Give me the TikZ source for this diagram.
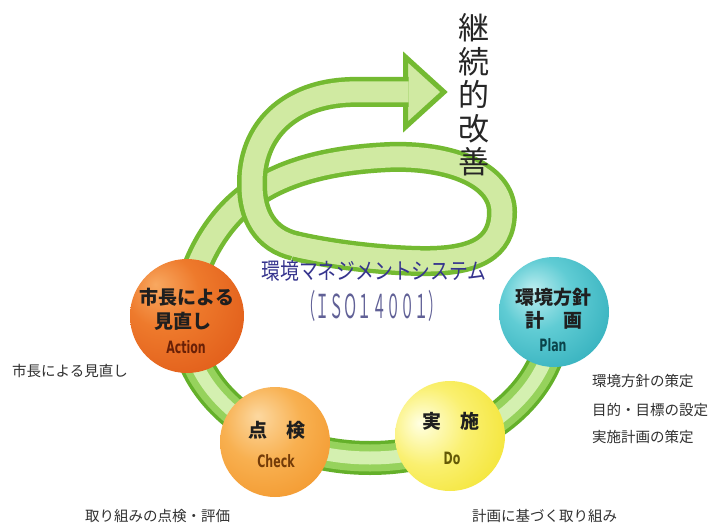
\documentclass[tikz,border=0pt]{standalone}
\usepackage{fontspec}
\newfontfamily\jp{Noto Sans CJK JP}
\newfontfamily\latc{DejaVu Sans Condensed}

% band colours
\definecolor{lowDark}{RGB}{100,176,42}
\definecolor{lowMid}{RGB}{150,210,92}
\definecolor{lowLight}{RGB}{212,240,176}
\definecolor{upDark}{RGB}{116,186,50}
\definecolor{upLight}{RGB}{208,234,162}
% text colours
\definecolor{sysBlue}{RGB}{54,52,142}
\definecolor{isoBlue}{RGB}{96,96,150}
\definecolor{sideGray}{RGB}{48,48,48}
% ball colours
\definecolor{actHi}{RGB}{248,168,96}
\definecolor{actMid}{RGB}{238,122,44}
\definecolor{actBody}{RGB}{224,90,24}
\definecolor{actEdge}{RGB}{190,58,12}
\definecolor{plnHi}{RGB}{190,238,240}
\definecolor{plnMid}{RGB}{96,204,212}
\definecolor{plnBody}{RGB}{42,170,184}
\definecolor{plnEdge}{RGB}{20,134,148}
\definecolor{chkHi}{RGB}{252,216,160}
\definecolor{chkMid}{RGB}{248,176,80}
\definecolor{chkBody}{RGB}{242,148,40}
\definecolor{chkEdge}{RGB}{230,118,16}
\definecolor{doHi}{RGB}{255,255,226}
\definecolor{doMid}{RGB}{250,240,112}
\definecolor{doBody}{RGB}{242,226,42}
\definecolor{doEdge}{RGB}{222,198,16}

\pgfdeclareradialshading{actionShade}{\pgfpoint{-14bp}{14bp}}{color(0bp)=(actHi); color(16bp)=(actMid); color(40bp)=(actBody); color(70bp)=(actEdge)}
\pgfdeclareradialshading{planShade}{\pgfpoint{-10bp}{10bp}}{color(0bp)=(plnHi); color(16bp)=(plnMid); color(40bp)=(plnBody); color(70bp)=(plnEdge)}
\pgfdeclareradialshading{checkShade}{\pgfpoint{-8bp}{12bp}}{color(0bp)=(chkHi); color(18bp)=(chkMid); color(40bp)=(chkBody); color(70bp)=(chkEdge)}
\pgfdeclareradialshading{doShade}{\pgfpoint{-14bp}{6bp}}{color(0bp)=(doHi); color(18bp)=(doMid); color(40bp)=(doBody); color(70bp)=(doEdge)}

% centre lines of the spiral band
\def\lowerTurn{(554,318) arc[start angle=0,end angle=-180,x radius=184pt,y radius=140pt]}
\def\middleTurn{(186,318) .. controls (186,285) and (205,232) .. (245,200)
  .. controls (275,176) and (320,160) .. (390,157)
  .. controls (450,155) and (502,175) .. (502,212)
  .. controls (502,248) and (475,262) .. (420,261)
  .. controls (370,260) and (320,252) .. (295,246)}
\def\upperTurn{(295,246) .. controls (265,239) and (252,215) .. (252,185)
  .. controls (251,130) and (290,94) .. (350,92) -- (408.5,92)}
% same front turn, begun one segment earlier so its fill hides the joint
\def\upperTurnLong{(420,261) .. controls (370,260) and (320,252) .. (295,246)
  .. controls (265,239) and (252,215) .. (252,185)
  .. controls (251,130) and (290,94) .. (350,92) -- (408.5,92)}

\begin{document}
\begin{tikzpicture}[x=1pt,y=-1pt,
  ball/.style={circle,minimum size=110pt,inner sep=0pt,draw=none},
  jlabel/.style={font=\jp\bfseries\fontsize{19}{19}\selectfont,text=black!88,inner sep=0pt},
  elabel/.style={font=\latc\bfseries\fontsize{17}{17}\selectfont,inner sep=0pt},
  sidetext/.style={font=\jp\fontsize{14.5}{14.5}\selectfont,text=sideGray,anchor=west,inner sep=0pt}]
\useasboundingbox[fill=white] (0,0) rectangle (725,524);

% lower turn through the four stages
\draw[line width=34,lowDark] \lowerTurn;
\draw[line width=27,lowMid] \lowerTurn;
\draw[line width=13,lowLight] \lowerTurn;

% rising turn behind the title
\draw[line width=30,upDark] \middleTurn;
\draw[line width=21,upLight] \middleTurn;

% arrow head
\draw[upDark,line width=5,fill=upLight,line join=miter] (405.5,57) -- (444,92) -- (405.5,127) -- cycle;

% front turn ending in the arrow shaft
\draw[line width=30,upDark] \upperTurn;
\draw[line width=21,upLight] \upperTurnLong;

% stage balls
\node[ball,minimum size=114pt,shading=actionShade] (act) at (187,316) {};
\node[ball,shading=planShade] (pln) at (554,312) {};
\node[ball,shading=checkShade] (chk) at (275,442) {};
\node[ball,shading=doShade] (do) at (450,436) {};

% ball labels
\node[jlabel] (act1) at (187,297) {市長による};
\node[jlabel] (act2) at (183,321) {見直し};
\node[elabel,text=actEdge!55!black] (act3) at (186,347) {\scalebox{0.72}[1]{Action}};

\node[jlabel] (pln1) at (553,297) {環境方針};
\node[jlabel] (pln2) at (554,320) {計　画};
\node[elabel,text=plnEdge!50!black] (pln3) at (553,345) {\scalebox{0.72}[1]{Plan}};

\node[jlabel] (chk1) at (277,430) {点　検};
\node[elabel,text=chkEdge!50!black] (chk2) at (276,461) {\scalebox{0.72}[1]{Check}};

\node[jlabel] (do1) at (451,421) {実　施};
\node[elabel,text=doEdge!45!black] (do2) at (452,458) {\scalebox{0.72}[1]{Do}};

% titles
\node[font=\jp\fontsize{31}{33.5}\selectfont,text=black!85,align=center,inner sep=0pt] (kaizen) at (474,95) {継\\続\\的\\改\\善};
\node[font=\jp\fontsize{19}{19}\selectfont,text=sysBlue,inner sep=0pt] (sys) at (374,271) {\scalebox{0.99}[1.2]{環境マネジメントシステム}};
\node[font=\jp\fontsize{33}{33}\selectfont,text=isoBlue,inner sep=0pt] (iso) at (372,306) {\scalebox{0.43}[1]{（ＩＳＯ１４００１）}};

% stage descriptions
\node[sidetext] (actTxt) at (12,371) {市長による見直し};
\node[sidetext] (plnTxt1) at (592,381) {環境方針の策定};
\node[sidetext] (plnTxt2) at (592,410) {目的・目標の設定};
\node[sidetext] (plnTxt3) at (592,437) {実施計画の策定};
\node[sidetext] (chkTxt) at (85,516) {取り組みの点検・評価};
\node[sidetext] (doTxt) at (472,516) {計画に基づく取り組み};
\end{tikzpicture}
\end{document}
